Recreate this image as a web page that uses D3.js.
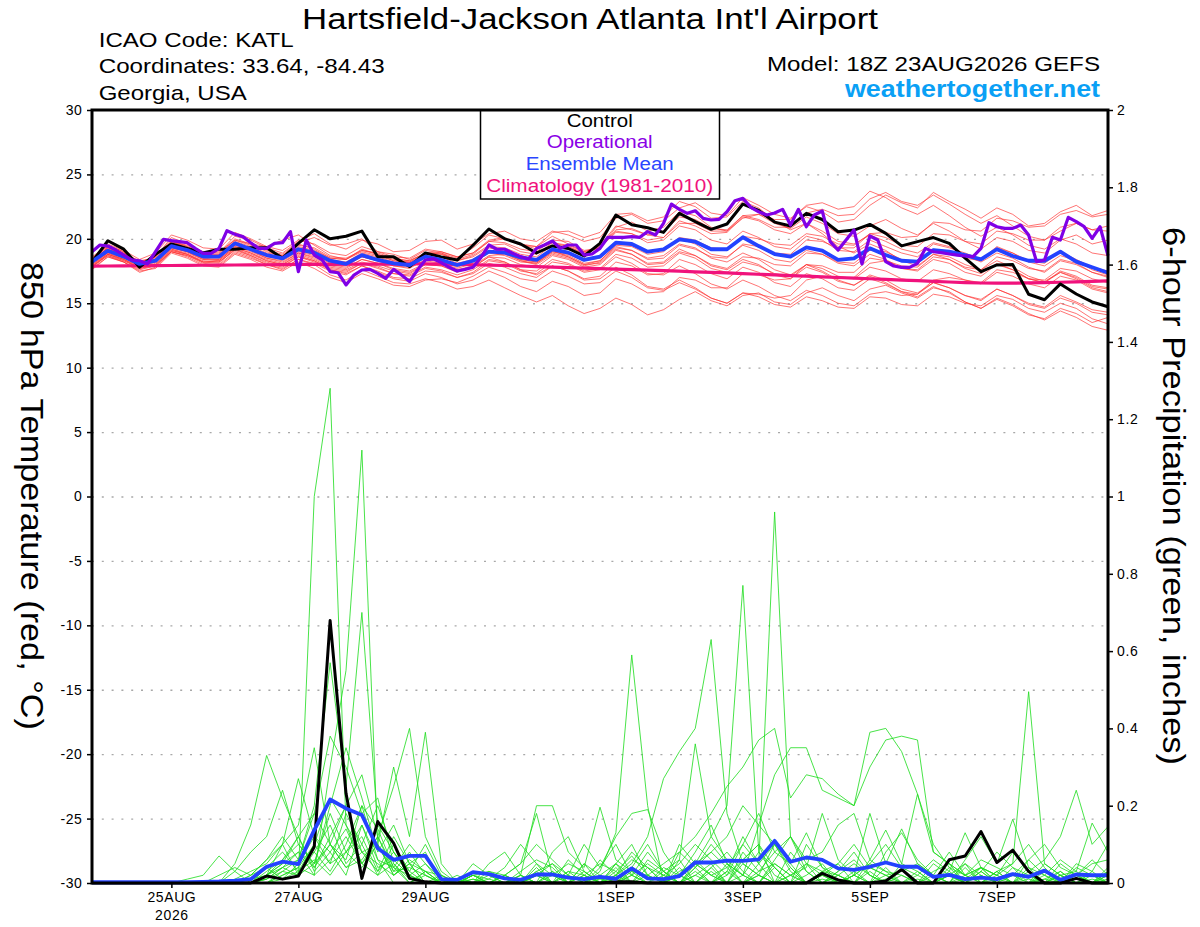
<!DOCTYPE html>
<html lang="en">

<head>
    <meta charset="UTF-8">
    <title>KATL GEFS meteogram</title>

    <style>
        body {
            margin: 0;
            background: #fff;
        }

        svg text {
            font-family: "Liberation Sans", Arial, Helvetica, sans-serif;
        }

        .axis text {
            font-size: 14px;
            fill: #000;
            letter-spacing: 0.6px;
        }

        .axis line {
            stroke: #000;
            stroke-width: 1.5;
        }

        .grid line {
            stroke: #a8a8a8;
            stroke-width: 1.4;
            stroke-dasharray: 2, 7.8;
        }
    </style>
</head>

<body>
    <div id="graph"></div>

    <script src="https://cdnjs.cloudflare.com/ajax/libs/d3/7.8.5/d3.min.js"></script>

    <script>
        // ---- data (6-hourly, 65 steps) ----

        var tickDays = ["2026-08-25", "2026-08-27", "2026-08-29", "2026-09-01", "2026-09-03", "2026-09-05", "2026-09-07"];
        var tickLabels = ["25AUG", "27AUG", "29AUG", "1SEP", "3SEP", "5SEP", "7SEP"];
        var tempTicks = [-30, -25, -20, -15, -10, -5, 0, 5, 10, 15, 20, 25, 30];
        var precipTicks = [0, 0.2, 0.4, 0.6, 0.8, 1, 1.2, 1.4, 1.6, 1.8, 2];

        // control run, 850 hPa temperature (C)
        var controlTemp = [18.2, 19.85, 19.2, 17.8, 18.8, 19.6, 19.25, 18.9, 19.2, 19.2, 19.3, 19.3, 18.5,
            19.65, 20.7, 20.0, 20.2, 20.6, 18.6, 18.6, 17.85, 18.9, 18.6, 18.35, 19.5, 20.76,
            20.0, 19.6, 18.9, 19.45, 19.25, 18.67, 19.65, 21.85, 21.1, 20.86, 20.5, 21.98, 21.33,
            20.74, 21.15, 22.7, 22.2, 21.3, 21.0, 21.98, 21.5, 20.55, 20.68, 21.12, 20.42, 19.45,
            19.78, 20.1, 19.65, 18.5, 17.45, 17.97, 18.0, 15.7, 15.27, 16.5, 15.72, 15.1, 14.73];

        // ensemble mean, 850 hPa temperature (C)
        var meanTemp = [18.23, 19.08, 18.62, 18.05, 18.3, 19.44, 19.13, 18.62, 18.62, 19.65, 19.19, 18.74, 18.49,
            19.19, 18.93, 18.3, 18.05, 18.74, 18.36, 18.1, 17.97, 18.62, 18.36, 17.97, 18.3, 19.0,
            18.93, 18.56, 18.36, 19.19, 18.93, 18.36, 18.62, 19.7, 19.6, 19.0, 19.19, 19.96, 19.78,
            19.19, 19.19, 20.12, 19.44, 18.82, 18.62, 19.34, 19.08, 18.36, 18.49, 19.26, 18.74, 18.3,
            18.23, 19.13, 19.0, 18.74, 18.41, 19.19, 18.67, 18.3, 18.3, 19.0, 18.23, 17.79, 17.37];

        // 1981-2010 climatology (C)
        var climTemp = [17.88, 17.89, 17.9, 17.91, 17.92, 17.93, 17.94, 17.95, 17.96, 17.97, 17.98, 17.99, 18.0,
            18.01, 18.02, 18.02, 18.03, 18.03, 18.04, 18.04, 18.05, 18.05, 18.04, 18.02, 17.99, 17.96,
            17.93, 17.89, 17.85, 17.81, 17.77, 17.73, 17.69, 17.65, 17.61, 17.57, 17.53, 17.49, 17.44,
            17.39, 17.35, 17.3, 17.25, 17.2, 17.15, 17.1, 17.05, 17.0, 16.95, 16.9, 16.85, 16.8,
            16.75, 16.7, 16.65, 16.6, 16.57, 16.56, 16.56, 16.58, 16.6, 16.63, 16.66, 16.7, 16.73];

        // operational run is 3-hourly (129 steps)
        var operTemp = [19.0, 19.52, 19.44, 19.13, 18.74, 18.36, 18.3, 18.05, 19.0, 19.96, 19.86, 19.78, 19.7,
            19.26, 18.87, 18.87, 19.26, 20.63, 20.35, 20.17, 19.7, 19.26, 19.26, 19.65, 19.7, 20.56,
            17.45, 19.91, 18.74, 18.36, 17.45, 17.37, 16.42, 17.19, 17.58, 17.63, 17.32, 16.93, 17.63,
            17.19, 16.68, 17.58, 18.36, 18.45, 18.15, 17.79, 17.5, 17.63, 17.79, 18.56, 19.52, 19.19,
            19.19, 18.88, 18.62, 18.43, 19.26, 19.52, 19.83, 19.26, 19.52, 19.52, 18.74, 18.82, 19.26,
            20.12, 20.12, 20.12, 20.17, 20.12, 20.56, 20.3, 21.2, 22.7, 22.29, 21.98, 22.18, 21.59,
            21.46, 21.51, 22.1, 22.96, 23.14, 22.45, 22.1, 21.85, 22.0, 22.29, 21.07, 22.29, 20.94,
            21.85, 22.16, 19.78, 19.13, 19.91, 20.69, 18.05, 20.22, 19.91, 18.23, 17.89, 17.79, 17.79,
            18.1, 19.26, 19.0, 18.93, 18.82, 18.74, 18.67, 18.62, 19.26, 21.25, 20.94, 20.81, 20.81,
            21.07, 20.3, 18.23, 18.36, 20.12, 19.91, 21.67, 21.33, 20.94, 20.04, 20.94, 18.7];

        // ensemble members, 850 hPa temperature (C)
        var tempMembers = [
            [18.0, 19.4, 18.9, 18.0, 18.6, 20.1, 19.6, 19.0, 18.9, 20.2, 19.9, 19.3, 18.9, 19.8, 20.4, 19.6, 19.2, 19.9, 19.6, 19.0, 19.1,
                19.8, 19.9, 19.2, 19.6, 20.4, 20.6, 20.0, 19.8, 20.6, 20.3, 19.8, 20.1, 21.6, 21.9, 21.2, 21.4, 22.4, 22.8, 22.0, 21.8,
                23.2, 22.6, 21.9, 21.6, 22.5, 22.1, 21.3, 21.5, 22.6, 23.4, 22.8, 22.4, 23.6, 22.9, 22.3, 21.6, 22.4, 21.9, 21.0, 21.2, 22.1, 22.6, 21.8, 22.2],
            [17.6, 18.6, 18.2, 17.4, 17.8, 19.0, 18.7, 18.1, 18.0, 19.0, 18.6, 18.0, 17.6, 18.4, 18.0, 17.2, 16.8, 17.6, 17.1, 16.6, 16.5,
                16.9, 16.6, 16.1, 16.3, 16.8, 16.2, 15.6, 15.1, 15.6, 14.8, 14.2, 14.6, 15.4, 14.9, 14.1, 14.5, 15.3, 15.9, 15.2, 14.8,
                15.6, 15.8, 15.1, 14.9, 15.8, 16.2, 15.6, 15.2, 16.1, 16.4, 15.8, 15.4, 16.2, 15.9, 15.1, 14.6, 15.3, 14.8, 14.1, 13.8, 14.6, 14.2, 13.5, 13.9],
            [18.4, 19.2, 18.8, 18.3, 18.5, 19.7, 19.3, 18.8, 18.7, 19.8, 19.4, 18.9, 18.7, 19.5, 19.3, 18.6, 18.5, 19.1, 18.9, 18.5, 18.3,
                18.9, 19.0, 18.6, 18.9, 19.8, 19.7, 19.2, 19.0, 19.9, 19.8, 19.1, 19.3, 20.6, 20.4, 19.7, 19.9, 21.0, 20.7, 19.9, 19.6,
                20.6, 20.1, 19.4, 19.2, 20.2, 19.9, 19.1, 19.0, 19.9, 19.4, 18.9, 18.6, 19.6, 19.3, 18.9, 18.4, 19.4, 18.9, 18.3, 18.1, 19.0, 18.4, 17.8, 17.5],
            [17.9, 18.8, 18.3, 17.7, 17.9, 19.1, 18.8, 18.2, 18.1, 19.2, 18.7, 18.2, 17.9, 18.6, 18.2, 17.6, 17.4, 18.1, 17.8, 17.3, 17.1,
                17.7, 17.5, 17.0, 17.3, 18.1, 17.8, 17.3, 17.0, 17.9, 17.5, 16.9, 17.1, 18.2, 17.9, 17.2, 17.3, 18.4, 18.0, 17.3, 16.9,
                17.8, 17.4, 16.6, 16.3, 17.3, 16.9, 16.2, 16.0, 16.9, 16.5, 15.9, 15.7, 16.6, 16.2, 15.6, 15.2, 16.1, 15.6, 15.0, 14.7, 15.6, 15.1, 14.5, 14.3],
            [18.5, 19.6, 19.1, 18.4, 18.9, 20.3, 19.9, 19.3, 19.2, 20.5, 20.0, 19.4, 19.1, 19.9, 19.6, 18.9, 18.7, 19.4, 19.0, 18.6, 18.5,
                19.2, 19.0, 18.6, 18.9, 19.9, 20.1, 19.6, 19.4, 20.2, 19.6, 19.0, 19.3, 20.9, 21.3, 20.6, 20.9, 22.1, 21.8, 20.9, 20.6,
                21.6, 21.9, 21.2, 20.8, 21.7, 21.2, 20.4, 20.2, 21.0, 21.5, 20.8, 20.3, 21.2, 20.6, 19.8, 19.2, 20.1, 19.8, 19.1, 18.9, 19.9, 20.3, 19.6, 19.9],
            [18.1, 18.9, 18.5, 17.9, 18.2, 19.3, 19.0, 18.4, 18.4, 19.4, 19.1, 18.5, 18.2, 18.9, 18.6, 18.0, 17.8, 18.4, 18.1, 17.7, 17.5,
                18.1, 18.0, 17.6, 17.9, 18.7, 18.8, 18.3, 18.0, 18.8, 18.5, 17.9, 18.2, 19.3, 19.1, 18.5, 18.7, 19.6, 19.3, 18.5, 18.2,
                18.9, 18.4, 17.6, 17.2, 18.0, 17.5, 16.8, 16.4, 17.1, 16.6, 15.9, 15.5, 16.3, 15.8, 15.1, 14.6, 15.4, 14.9, 14.2, 13.7, 14.4, 13.9, 13.2, 12.9],
            [18.3, 19.3, 18.7, 18.1, 18.4, 19.6, 19.2, 18.6, 18.5, 19.6, 19.3, 18.8, 18.5, 19.3, 19.0, 18.4, 18.2, 18.9, 18.6, 18.2, 18.1,
                18.8, 18.9, 18.3, 18.7, 19.5, 19.6, 19.0, 18.8, 19.7, 19.5, 19.0, 19.4, 20.7, 20.8, 20.3, 20.6, 21.7, 21.5, 20.8, 20.7,
                21.8, 21.5, 20.9, 20.9, 22.0, 22.3, 21.8, 21.9, 23.1, 23.6, 22.9, 22.6, 23.4, 22.7, 21.9, 21.2, 21.8, 21.0, 20.2, 19.9, 20.6, 21.2, 20.7, 21.0],
            [17.8, 18.7, 18.3, 17.8, 18.0, 19.0, 18.6, 18.0, 17.9, 18.9, 18.5, 18.0, 17.7, 18.4, 18.1, 17.5, 17.2, 17.9, 17.5, 17.0, 16.9,
                17.5, 17.4, 17.0, 17.4, 18.3, 18.1, 17.5, 17.3, 18.2, 18.0, 17.4, 17.6, 18.6, 18.1, 17.3, 17.2, 17.9, 17.3, 16.5, 16.1,
                16.8, 16.3, 15.6, 15.2, 16.0, 15.6, 15.0, 14.8, 15.7, 15.9, 15.6, 15.7, 16.8, 17.0, 16.8, 16.6, 17.6, 17.4, 16.9, 16.8, 17.7, 17.5, 16.9, 16.6],
            [18.2, 19.0, 18.5, 18.0, 18.3, 19.4, 19.0, 18.5, 18.6, 19.6, 19.2, 18.7, 18.4, 19.1, 18.8, 18.2, 18.0, 18.6, 18.3, 17.9, 17.8,
                18.3, 18.1, 17.7, 18.1, 18.9, 18.7, 18.2, 18.1, 19.0, 18.8, 18.3, 18.5, 19.6, 19.5, 19.0, 19.2, 20.1, 19.9, 19.3, 19.2,
                20.2, 20.0, 19.6, 19.5, 20.4, 20.2, 19.6, 19.5, 20.4, 20.1, 19.5, 19.4, 20.4, 20.3, 19.8, 19.6, 20.6, 20.4, 19.9, 19.9, 20.9, 21.2, 20.7, 20.6],
            [18.6, 19.5, 19.0, 18.2, 18.4, 19.8, 19.4, 18.8, 18.8, 20.0, 19.6, 19.4, 19.9, 20.3, 19.5, 18.7, 18.4, 19.2, 18.8, 18.3, 18.2,
                18.7, 18.6, 18.1, 18.4, 19.3, 19.0, 18.4, 18.2, 19.1, 18.6, 18.0, 18.1, 19.2, 18.8, 18.0, 18.1, 19.0, 18.7, 18.0, 17.7,
                18.6, 18.5, 18.0, 17.9, 18.9, 18.8, 18.2, 18.1, 19.1, 19.0, 18.4, 18.2, 19.2, 19.0, 18.5, 18.3, 19.3, 18.9, 18.2, 17.9, 18.7, 18.3, 17.6, 17.2],
            [18.0, 18.9, 18.4, 17.8, 18.1, 19.1, 18.8, 18.3, 18.2, 19.2, 18.8, 18.3, 18.0, 18.8, 18.4, 17.8, 17.6, 18.2, 17.9, 17.5, 17.3,
                18.0, 17.9, 17.4, 17.8, 18.6, 18.2, 17.6, 17.5, 18.4, 18.1, 17.5, 17.7, 18.8, 18.5, 17.8, 17.9, 18.9, 18.5, 17.7, 17.4,
                18.2, 17.9, 17.3, 17.1, 18.0, 17.7, 17.1, 16.9, 17.8, 17.5, 16.9, 16.7, 17.6, 17.3, 16.8, 16.5, 17.4, 17.1, 16.5, 16.2, 17.1, 16.8, 16.1, 15.8],
            [18.4, 19.3, 18.9, 18.2, 18.6, 19.8, 19.5, 18.9, 18.8, 19.9, 19.6, 19.0, 18.7, 19.6, 19.2, 18.5, 18.4, 19.0, 18.7, 18.3, 18.2,
                18.9, 18.8, 18.4, 18.8, 19.8, 20.0, 19.5, 19.4, 20.5, 20.6, 20.1, 20.5, 21.9, 22.0, 21.4, 21.7, 22.9, 22.5, 21.6, 21.7,
                22.9, 22.4, 21.4, 20.7, 21.2, 20.4, 19.4, 18.9, 19.6, 19.1, 18.3, 17.9, 18.8, 18.4, 17.7, 17.3, 18.1, 17.6, 16.9, 16.6, 17.4, 17.0, 16.3, 16.1],
            [17.7, 18.6, 18.2, 17.6, 17.9, 19.0, 18.7, 18.2, 18.2, 19.1, 18.7, 18.1, 17.8, 18.6, 18.3, 17.7, 17.5, 18.1, 17.7, 17.3, 17.2,
                17.8, 17.6, 17.2, 17.6, 18.4, 18.2, 17.6, 17.2, 17.9, 17.5, 16.8, 16.9, 17.8, 17.2, 16.3, 16.1, 16.8, 16.2, 15.4, 15.0,
                15.8, 15.7, 15.4, 15.6, 16.8, 17.1, 16.9, 17.0, 18.1, 18.3, 17.9, 17.8, 18.8, 18.6, 18.0, 17.6, 18.3, 17.8, 17.1, 16.7, 17.4, 16.9, 16.2, 15.9],
            [18.3, 19.5, 19.0, 18.0, 18.7, 19.9, 19.4, 18.9, 19.0, 19.9, 19.5, 19.1, 18.8, 19.7, 20.1, 19.5, 19.6, 20.0, 19.0, 18.8, 18.4,
                19.1, 18.9, 18.5, 19.3, 20.3, 20.0, 19.6, 19.2, 19.7, 19.4, 18.8, 19.5, 21.0, 20.7, 20.3, 20.1, 21.4, 21.0, 20.4, 20.5,
                21.7, 21.4, 20.7, 20.4, 21.2, 20.6, 19.8, 19.6, 20.3, 19.8, 19.2, 18.9, 19.7, 19.4, 18.7, 18.2, 18.9, 18.5, 17.8, 17.4, 18.3, 18.0, 17.4, 17.0],
            [17.9, 18.7, 18.2, 17.5, 17.7, 18.9, 18.5, 17.9, 17.8, 18.8, 18.4, 17.8, 17.5, 18.2, 17.7, 17.0, 16.6, 17.3, 16.9, 16.4, 16.3,
                16.8, 16.9, 16.6, 17.1, 17.8, 17.4, 16.9, 16.7, 17.5, 17.1, 16.5, 16.6, 17.5, 17.0, 16.2, 16.0, 16.6, 16.1, 15.4, 15.0,
                15.8, 15.5, 14.9, 14.7, 15.5, 15.2, 14.7, 14.6, 15.5, 15.4, 14.9, 14.8, 15.7, 15.5, 15.0, 14.8, 15.6, 15.3, 14.6, 14.3, 15.0, 14.6, 13.8, 13.4],
            [18.1, 19.1, 18.6, 18.0, 18.4, 19.5, 19.1, 18.7, 18.6, 19.5, 19.1, 18.6, 18.4, 19.1, 18.8, 18.2, 18.1, 18.8, 18.5, 18.1, 18.0,
                18.6, 18.4, 18.0, 18.3, 19.1, 18.9, 18.4, 18.2, 19.0, 18.7, 18.1, 18.3, 19.4, 19.1, 18.4, 18.5, 19.5, 19.2, 18.6, 18.5,
                19.6, 19.4, 18.9, 18.8, 19.9, 19.8, 19.3, 19.3, 20.4, 20.5, 20.1, 20.2, 21.3, 21.2, 20.7, 20.6, 21.6, 21.4, 20.9, 21.0, 21.9, 22.2, 21.7, 21.9],
            [18.0, 18.8, 18.4, 17.9, 18.2, 19.2, 18.9, 18.4, 18.3, 19.3, 18.9, 18.4, 18.1, 18.9, 18.5, 17.9, 17.7, 18.4, 18.1, 17.6, 17.4,
                18.0, 17.9, 17.5, 17.8, 18.6, 18.5, 18.0, 17.8, 18.7, 18.4, 17.8, 18.0, 19.1, 18.8, 18.1, 18.2, 19.2, 18.7, 17.9, 17.6,
                18.4, 18.0, 17.2, 16.9, 17.8, 17.4, 16.7, 16.4, 17.2, 16.8, 16.1, 15.8, 16.6, 16.2, 15.6, 15.3, 16.1, 15.6, 14.9, 14.6, 15.4, 15.0, 14.3, 14.1],
            [18.5, 19.4, 18.8, 18.2, 18.6, 19.8, 19.3, 18.7, 18.6, 19.7, 19.3, 18.8, 18.6, 19.4, 19.1, 18.5, 18.4, 19.1, 18.8, 18.4, 18.3,
                18.9, 18.8, 18.3, 18.6, 19.4, 19.3, 18.8, 18.6, 19.5, 19.4, 18.9, 19.3, 20.5, 20.4, 19.9, 20.1, 21.2, 21.2, 20.6, 20.6,
                21.8, 21.9, 21.5, 21.5, 22.6, 22.8, 22.3, 22.5, 23.7, 23.2, 22.4, 21.9, 22.6, 21.8, 20.9, 20.2, 20.9, 20.3, 19.5, 19.2, 20.0, 19.6, 18.9, 18.7],
            [18.2, 19.2, 18.7, 18.1, 18.3, 19.3, 19.0, 18.5, 18.4, 19.4, 19.0, 18.5, 18.3, 19.0, 18.7, 18.1, 17.9, 18.6, 18.3, 17.9, 17.7,
                18.4, 18.2, 17.8, 18.2, 19.0, 18.9, 18.3, 18.1, 18.9, 18.6, 18.0, 18.3, 19.5, 19.4, 18.8, 19.0, 20.0, 19.6, 18.8, 18.6,
                19.5, 19.1, 18.4, 18.2, 19.1, 18.8, 18.1, 17.9, 18.8, 18.4, 17.7, 17.5, 18.4, 18.1, 17.4, 17.1, 18.0, 17.6, 16.9, 16.6, 17.5, 17.1, 16.4, 16.2],
            [17.8, 18.8, 18.4, 17.7, 18.0, 19.2, 18.8, 18.2, 18.3, 19.3, 18.9, 18.3, 18.0, 18.7, 18.3, 17.6, 17.3, 17.9, 17.4, 16.9, 16.7,
                17.3, 17.0, 16.5, 16.8, 17.5, 17.0, 16.3, 15.9, 16.7, 16.3, 15.6, 15.8, 16.9, 16.5, 15.8, 15.9, 17.0, 16.8, 16.2, 16.2,
                17.3, 17.2, 16.8, 16.9, 18.0, 17.9, 17.4, 17.4, 18.5, 18.3, 17.7, 17.6, 18.6, 18.4, 17.8, 17.6, 18.6, 18.3, 17.7, 17.5, 18.4, 18.1, 17.4, 17.1]
        ];

        // control run, 6-hour precipitation (in)
        var controlPrecip = [0, 0, 0, 0, 0, 0, 0, 0, 0, 0, 0, 0.018, 0.01,
            0.018, 0.094, 0.679, 0.232, 0.012, 0.159, 0.103, 0.012, 0.003, 0, 0, 0, 0,
            0, 0, 0, 0, 0, 0, 0, 0.003, 0.003, 0, 0, 0, 0,
            0, 0, 0, 0, 0, 0, 0, 0.025, 0.008, 0, 0, 0.005, 0.035,
            0, 0, 0.06, 0.07, 0.133, 0.053, 0.085, 0.03, 0, 0, 0.012, 0, 0];

        // ensemble mean, 6-hour precipitation (in)
        var meanPrecip = [0.002, 0.002, 0.002, 0.002, 0.002, 0.002, 0.002, 0.003, 0.004, 0.006, 0.01, 0.042, 0.055,
            0.049, 0.137, 0.216, 0.193, 0.176, 0.09, 0.06, 0.07, 0.07, 0.01, 0.008, 0.028, 0.023,
            0.012, 0.008, 0.022, 0.022, 0.014, 0.01, 0.016, 0.011, 0.038, 0.012, 0.01, 0.018, 0.053,
            0.053, 0.058, 0.057, 0.061, 0.109, 0.055, 0.066, 0.06, 0.038, 0.034, 0.042, 0.053, 0.042,
            0.042, 0.016, 0.021, 0.01, 0.014, 0.01, 0.023, 0.016, 0.032, 0.008, 0.022, 0.02, 0.02];

        // ensemble members, 6-hour precipitation (in)
        var precipMembers = [
            [0, 0, 0, 0, 0, 0, 0, 0, 0, 0.01, 0.03, 0.05, 0.1,
                0.02, 1.0, 1.28, 0.15, 0.05, 0.12, 0.04, 0, 0.02, 0, 0, 0.01, 0,
                0, 0, 0.02, 0.05, 0, 0, 0.01, 0, 0.02, 0, 0, 0.03, 0.05,
                0.02, 0, 0.06, 0.1, 0, 0.02, 0, 0.01, 0, 0, 0.03, 0, 0,
                0, 0, 0, 0.02, 0.04, 0, 0, 0, 0.01, 0.03, 0, 0, 0.02],
            [0, 0, 0, 0, 0, 0, 0, 0, 0, 0, 0, 0.02, 0.04,
                0.08, 0.02, 0.3, 0.55, 1.12, 0.1, 0.02, 0.05, 0, 0, 0, 0.02, 0,
                0, 0, 0.03, 0, 0, 0.05, 0.02, 0, 0, 0.04, 0, 0.02, 0.08,
                0.15, 0.05, 0.02, 0, 0.04, 0, 0, 0.02, 0, 0, 0, 0.01, 0,
                0, 0, 0.03, 0, 0, 0, 0.02, 0, 0, 0.05, 0.02, 0, 0],
            [0, 0, 0, 0, 0, 0, 0, 0, 0.02, 0.04, 0.02, 0.06, 0.12,
                0.06, 0.2, 0.57, 0.25, 0.7, 0.15, 0.08, 0.02, 0, 0, 0.01, 0, 0,
                0.02, 0, 0, 0.08, 0.12, 0.03, 0, 0.05, 0, 0, 0.02, 0, 0.03,
                0, 0.02, 0.06, 0.1, 0.04, 0, 0, 0.03, 0.05, 0, 0, 0, 0.02,
                0, 0, 0, 0.01, 0.04, 0, 0, 0, 0, 0.02, 0, 0, 0.03],
            [0, 0, 0, 0, 0, 0, 0, 0, 0, 0.05, 0.15, 0.33, 0.22,
                0.12, 0.18, 0.38, 0.3, 0.18, 0.22, 0.05, 0, 0.03, 0, 0, 0.02, 0,
                0, 0.02, 0, 0, 0.03, 0, 0.06, 0.02, 0, 0, 0, 0.04, 0,
                0.03, 0, 0.05, 0.02, 0, 0.08, 0.03, 0, 0, 0.02, 0, 0, 0,
                0.02, 0, 0, 0.04, 0, 0, 0, 0.06, 0.02, 0, 0, 0.03, 0],
            [0, 0, 0, 0, 0, 0, 0, 0, 0, 0, 0.02, 0.06, 0.1,
                0.15, 0.35, 0.1, 0.2, 0.28, 0.12, 0.25, 0.4, 0.12, 0.03, 0, 0, 0.01,
                0, 0.03, 0.06, 0.04, 0, 0, 0.02, 0.05, 0.1, 0.02, 0, 0, 0.04,
                0.08, 0.04, 0, 0.02, 0, 0.04, 0, 0, 0.03, 0.06, 0.02, 0, 0,
                0, 0.03, 0.05, 0, 0.02, 0, 0, 0.01, 0, 0, 0.04, 0.02, 0],
            [0, 0, 0, 0, 0, 0, 0.01, 0.02, 0.07, 0.03, 0, 0.04, 0.08,
                0.03, 0.1, 0.22, 0.15, 0.08, 0.1, 0.3, 0.12, 0.39, 0.05, 0, 0.02, 0.03,
                0.01, 0, 0, 0.02, 0.05, 0.03, 0, 0.01, 0, 0.06, 0.03, 0, 0.02,
                0, 0.05, 0.02, 0, 0.06, 0.12, 0.05, 0.02, 0, 0, 0.04, 0.02, 0,
                0.01, 0, 0.02, 0, 0, 0.03, 0, 0, 0.02, 0, 0, 0, 0.01],
            [0, 0, 0, 0, 0, 0, 0, 0, 0, 0.03, 0.08, 0.12, 0.24,
                0.1, 0.05, 0.2, 0.35, 0.22, 0.08, 0.15, 0.05, 0.08, 0, 0, 0.05, 0.02,
                0, 0, 0.04, 0, 0, 0.02, 0, 0.03, 0.07, 0.02, 0, 0.02, 0,
                0.04, 0, 0.08, 0.03, 0.05, 0.02, 0, 0, 0, 0.02, 0.05, 0.03, 0,
                0, 0, 0.02, 0, 0.03, 0.08, 0.04, 0, 0, 0, 0.02, 0, 0.04],
            [0, 0, 0, 0, 0, 0, 0, 0, 0, 0, 0, 0.02, 0.1,
                0.27, 0.12, 0.05, 0.18, 0.1, 0.2, 0.08, 0.03, 0.1, 0.02, 0, 0, 0,
                0.02, 0.05, 0.18, 0.02, 0, 0, 0, 0, 0.03, 0, 0.04, 0.02, 0,
                0, 0.03, 0, 0.02, 0, 0, 0.02, 0.05, 0, 0.03, 0, 0.08, 0.13,
                0.06, 0.02, 0, 0, 0.03, 0, 0, 0, 0.05, 0.02, 0, 0, 0],
            [0, 0, 0, 0, 0, 0, 0, 0, 0, 0, 0.02, 0.04, 0.01,
                0.05, 0.12, 0.08, 0.02, 0.15, 0.06, 0, 0, 0.03, 0, 0, 0, 0.02,
                0, 0, 0.05, 0.02, 0, 0, 0.03, 0.13, 0.59, 0.2, 0, 0.02, 0.06,
                0.02, 0, 0, 0.05, 0.1, 0.03, 0, 0, 0.02, 0, 0, 0.04, 0,
                0, 0, 0.02, 0, 0, 0.01, 0, 0, 0.03, 0, 0, 0.02, 0],
            [0, 0, 0, 0, 0, 0, 0, 0, 0, 0, 0, 0.03, 0.06,
                0.12, 0.04, 0.1, 0.06, 0.2, 0.14, 0.04, 0.02, 0, 0.01, 0, 0.02, 0,
                0.02, 0, 0, 0, 0.03, 0.02, 0, 0.02, 0.05, 0.12, 0.27, 0.34, 0.4,
                0.63, 0.18, 0.05, 0.02, 0.1, 0.05, 0, 0.03, 0.02, 0, 0, 0.02, 0,
                0.03, 0, 0, 0.05, 0.02, 0, 0, 0.04, 0, 0, 0.02, 0, 0],
            [0, 0, 0, 0, 0, 0, 0, 0, 0, 0, 0, 0, 0.03,
                0.06, 0.18, 0.1, 0.04, 0.08, 0.03, 0.12, 0.05, 0, 0, 0, 0, 0,
                0, 0, 0.02, 0, 0, 0, 0.04, 0.1, 0.02, 0, 0, 0.06, 0.36,
                0.12, 0.2, 0.77, 0.08, 0.02, 0, 0.05, 0.03, 0, 0.02, 0, 0, 0,
                0, 0.02, 0, 0, 0.03, 0, 0, 0.02, 0, 0.03, 0, 0, 0.02],
            [0, 0, 0, 0, 0, 0, 0, 0, 0, 0, 0, 0.01, 0.04,
                0.02, 0.08, 0.15, 0.05, 0.1, 0.02, 0.05, 0.01, 0, 0, 0.01, 0, 0,
                0, 0.02, 0, 0.03, 0, 0, 0.02, 0, 0.04, 0.1, 0.03, 0, 0.05,
                0.02, 0.04, 0.1, 0.05, 0.96, 0.12, 0.03, 0, 0.02, 0.05, 0.02, 0, 0,
                0, 0, 0.04, 0, 0, 0.02, 0, 0, 0, 0.02, 0.03, 0, 0],
            [0, 0, 0, 0, 0, 0, 0, 0, 0, 0, 0.01, 0.02, 0.05,
                0.08, 0.04, 0.12, 0.2, 0.08, 0.05, 0.02, 0.06, 0.03, 0, 0, 0, 0,
                0.02, 0, 0, 0, 0, 0.02, 0.05, 0.03, 0, 0.02, 0.05, 0.08, 0.12,
                0.18, 0.25, 0.3, 0.37, 0.4, 0.22, 0.28, 0.27, 0.23, 0.2, 0.39, 0.4, 0.34,
                0.23, 0.08, 0.05, 0.02, 0, 0.03, 0, 0, 0.01, 0, 0.02, 0, 0],
            [0, 0, 0, 0, 0, 0, 0, 0, 0, 0, 0, 0, 0.02,
                0.04, 0.1, 0.05, 0.08, 0.12, 0.03, 0.08, 0.02, 0, 0, 0, 0.01, 0,
                0, 0, 0.03, 0.05, 0.02, 0, 0, 0.02, 0.06, 0.04, 0, 0.1, 0.05,
                0.08, 0.12, 0.2, 0.15, 0.28, 0.35, 0.35, 0.24, 0.22, 0.2, 0.3, 0.37, 0.38,
                0.37, 0.08, 0.05, 0.02, 0.04, 0.02, 0, 0.03, 0, 0.02, 0, 0.01, 0],
            [0, 0, 0, 0, 0, 0, 0, 0, 0, 0, 0, 0.02, 0.06,
                0.1, 0.05, 0.18, 0.08, 0.15, 0.04, 0.06, 0.02, 0.05, 0, 0, 0, 0,
                0, 0.01, 0, 0, 0.02, 0, 0, 0.05, 0.02, 0.08, 0.03, 0, 0.02,
                0.05, 0, 0.02, 0.08, 0.04, 0, 0.1, 0.04, 0.02, 0, 0.06, 0.03, 0.02,
                0, 0.05, 0.02, 0, 0.04, 0.02, 0.05, 0.495, 0.05, 0.02, 0, 0, 0.03],
            [0, 0, 0, 0, 0, 0, 0, 0, 0, 0, 0, 0, 0.02,
                0.04, 0.02, 0.06, 0.12, 0.05, 0.1, 0.03, 0.04, 0.02, 0, 0, 0.02, 0.01,
                0.04, 0.1, 0.05, 0, 0, 0.03, 0, 0, 0.02, 0.05, 0.02, 0, 0.04,
                0.1, 0.05, 0, 0.03, 0.08, 0.05, 0.13, 0.04, 0, 0.02, 0.05, 0.1, 0.04,
                0.02, 0.06, 0.03, 0.13, 0.04, 0.02, 0.08, 0.03, 0.06, 0.12, 0.24, 0.1, 0.146],
            [0, 0, 0, 0, 0, 0, 0, 0, 0, 0, 0, 0.01, 0.03,
                0.02, 0.05, 0.1, 0.04, 0.06, 0.12, 0.03, 0.08, 0.02, 0, 0.02, 0, 0,
                0, 0, 0.02, 0, 0.06, 0.02, 0, 0.04, 0, 0, 0.03, 0.06, 0,
                0.04, 0.08, 0.03, 0, 0.05, 0.02, 0.04, 0.18, 0.06, 0.02, 0.18, 0.05, 0.14,
                0.05, 0.02, 0, 0.06, 0.12, 0.05, 0.165, 0.04, 0.02, 0.06, 0.03, 0.155, 0.08],
            [0, 0, 0, 0, 0, 0, 0, 0, 0, 0, 0, 0.02, 0.05,
                0.12, 0.03, 0.08, 0.14, 0.05, 0.02, 0.1, 0.03, 0, 0.02, 0, 0, 0.05,
                0.08, 0.02, 0.2, 0.2, 0.08, 0.04, 0.196, 0.06, 0.03, 0.02, 0, 0.08, 0.04,
                0, 0.03, 0.12, 0.05, 0, 0.02, 0.05, 0, 0.03, 0.08, 0.02, 0, 0.05,
                0.03, 0, 0.02, 0.05, 0, 0, 0.04, 0.02, 0, 0, 0.05, 0.03, 0.1],
            [0, 0, 0, 0, 0, 0, 0, 0, 0, 0, 0, 0.01, 0.04,
                0.06, 0.08, 0.03, 0.1, 0.2, 0.06, 0.04, 0.1, 0.05, 0.01, 0, 0, 0.03,
                0.02, 0.05, 0.1, 0.06, 0.02, 0.1, 0.04, 0.12, 0.18, 0.19, 0.08, 0.02, 0.05,
                0.12, 0.06, 0.02, 0.15, 0.1, 0.04, 0, 0.02, 0.05, 0.1, 0.04, 0.02, 0.03,
                0.05, 0.02, 0.08, 0.02, 0, 0.03, 0.05, 0.1, 0.04, 0, 0.02, 0.06, 0.02],
            [0, 0, 0, 0, 0, 0, 0, 0, 0, 0, 0, 0, 0.01,
                0.03, 0.06, 0.02, 0.08, 0.04, 0.1, 0.02, 0.05, 0.03, 0.02, 0, 0, 0,
                0, 0.02, 0, 0.03, 0, 0.05, 0, 0.02, 0.08, 0.04, 0.02, 0.05, 0.1,
                0.06, 0.02, 0.1, 0.18, 0.08, 0.12, 0.06, 0.08, 0.15, 0.18, 0.06, 0.137, 0.05,
                0.23, 0.1, 0.04, 0.02, 0.06, 0.04, 0.02, 0.06, 0.1, 0.04, 0.02, 0.05, 0.06]
        ];

        // ---- layout ----

        var width = 1200, height = 927;
        var plot = { left: 92, right: 1108, top: 110, bottom: 883 };

        var runStart = new Date(Date.UTC(2026, 7, 23, 18));
        var times = controlTemp.map((d, i) => d3.utcHour.offset(runStart, 6 * i));
        var operTimes = operTemp.map((d, i) => d3.utcHour.offset(runStart, 3 * i));
        var parseDay = d3.utcParse("%Y-%m-%d");

        var svg = d3.select("#graph").append("svg")
            .attr("width", width)
            .attr("height", height);

        var x = d3.scaleUtc()
            .domain([times[0], times[times.length - 1]])
            .range([plot.left, plot.right]);

        var yT = d3.scaleLinear().domain([-30, 30]).range([plot.bottom, plot.top]);
        var yP = d3.scaleLinear().domain([0, 2]).range([plot.bottom, plot.top]);

        // dotted grid at the temperature ticks
        svg.append("g")
            .attr("class", "grid")
            .attr("transform", "translate(" + plot.left + ",0)")
            .call(d3.axisLeft(yT)
                .tickValues(tempTicks.filter(d => d > -30 && d < 30))
                .tickSize(-(plot.right - plot.left))
                .tickFormat(""))
            .call(g => g.select(".domain").remove());

        var tempLine = d3.line().x((d, i) => x(times[i])).y(d => yT(d));
        var operLine = d3.line().x((d, i) => x(operTimes[i])).y(d => yT(d));
        var precipLine = d3.line().x((d, i) => x(times[i])).y(d => yP(d));

        function drawPath(data, gen, color, w, opacity) {
            svg.append("path")
                .datum(data)
                .attr("fill", "none")
                .attr("stroke", color)
                .attr("stroke-width", w)
                .attr("stroke-opacity", opacity || 1)
                .attr("stroke-linejoin", "round")
                .attr("d", gen);
        }

        tempMembers.forEach(m => drawPath(m, tempLine, "#ff3030", 0.9, 0.75));
        precipMembers.forEach(m => drawPath(m, precipLine, "#1edc1e", 0.9, 0.9));

        drawPath(climTemp, tempLine, "#f0127c", 3.2);
        drawPath(controlTemp, tempLine, "#000000", 3);
        drawPath(controlPrecip, precipLine, "#000000", 3);
        drawPath(meanTemp, tempLine, "#2342ff", 3.8);
        drawPath(meanPrecip, precipLine, "#2342ff", 3.8);
        drawPath(operTemp, operLine, "#8000e6", 3.2);

        // legend
        var legend = [
            { label: "Control", color: "#000000", y: 127, len: 66 },
            { label: "Operational", color: "#8a00e6", y: 148, len: 106 },
            { label: "Ensemble Mean", color: "#2a46ff", y: 170, len: 148 },
            { label: "Climatology (1981-2010)", color: "#f0127c", y: 192, len: 227 }
        ];

        svg.append("rect")
            .attr("x", 480.5).attr("y", plot.top)
            .attr("width", 239).attr("height", 89)
            .attr("fill", "#fff")
            .attr("stroke", "#000")
            .attr("stroke-width", 1.5);

        svg.selectAll(".legend-text")
            .data(legend)
            .enter().append("text")
            .attr("x", 599.7)
            .attr("y", d => d.y)
            .attr("text-anchor", "middle")
            .attr("font-size", 17.5)
            .attr("fill", d => d.color)
            .attr("textLength", d => d.len)
            .attr("lengthAdjust", "spacingAndGlyphs")
            .text(d => d.label);

        // frame
        svg.append("rect")
            .attr("x", plot.left).attr("y", plot.top)
            .attr("width", plot.right - plot.left)
            .attr("height", plot.bottom - plot.top)
            .attr("fill", "none")
            .attr("stroke", "#000")
            .attr("stroke-width", 3);

        // axes
        svg.append("g")
            .attr("class", "axis")
            .attr("transform", "translate(" + plot.left + ",0)")
            .call(d3.axisLeft(yT).tickValues(tempTicks).tickSize(5).tickPadding(4.5).tickFormat(d => String(d)))
            .call(g => g.select(".domain").remove());

        svg.append("g")
            .attr("class", "axis")
            .attr("transform", "translate(" + plot.right + ",0)")
            .call(d3.axisRight(yP).tickValues(precipTicks).tickSize(5).tickPadding(4).tickFormat(d => String(d)))
            .call(g => g.select(".domain").remove());

        var xAxis = svg.append("g")
            .attr("class", "axis")
            .attr("transform", "translate(0," + plot.bottom + ")")
            .call(d3.axisBottom(x)
                .tickValues(tickDays.map(parseDay))
                .tickSize(5)
                .tickPadding(4)
                .tickFormat((d, i) => tickLabels[i]))
            .call(g => g.select(".domain").remove());

        xAxis.select(".tick text")
            .append("tspan")
            .attr("x", 0)
            .attr("dy", "1.3em")
            .text("2026");

        // header
        function label(str, xPos, yPos, size, anchor, len, extra) {
            var t = svg.append("text")
                .attr("x", xPos)
                .attr("y", yPos)
                .attr("font-size", size)
                .attr("text-anchor", anchor)
                .attr("textLength", len)
                .attr("lengthAdjust", "spacingAndGlyphs")
                .text(str);
            if (extra) extra(t);
            return t;
        }

        label("Hartsfield-Jackson Atlanta Int'l Airport", 590, 29, 30, "middle", 576);
        label("ICAO Code: KATL", 98.7, 46.5, 21, "start", 195);
        label("Coordinates: 33.64, -84.43", 98.7, 73, 21, "start", 286);
        label("Georgia, USA", 98.7, 99.5, 21, "start", 148);
        label("Model: 18Z 23AUG2026 GEFS", 1100, 71, 21, "end", 333);
        label("weathertogether.net", 1100, 97, 24, "end", 255,
            t => t.attr("font-weight", "bold").attr("fill", "#0aa0f5"));

        // axis titles, both read top to bottom
        label("850 hPa Temperature (red, \u00B0C)", 0, 0, 31, "middle", 468,
            t => t.attr("transform", "translate(21,496) rotate(90)"));
        label("6-hour Precipitation (green, inches)", 0, 0, 31, "middle", 538,
            t => t.attr("transform", "translate(1163,496) rotate(90)"));
    </script>
</body>

</html>
